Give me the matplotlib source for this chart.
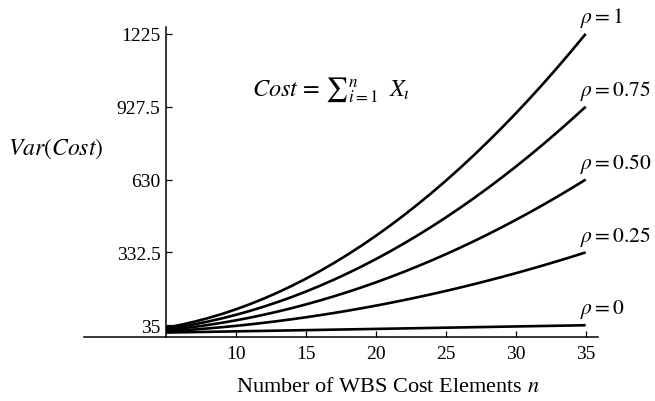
import matplotlib
matplotlib.use("Agg")
import matplotlib.pyplot as plt

plt.rcParams["font.family"] = ["Liberation Serif", "DejaVu Serif"]
plt.rcParams["mathtext.fontset"] = "stix"

# number of WBS cost elements
n = list(range(5, 36))

# variance of total cost for each correlation level
var_rho_0 = [5, 6, 7, 8, 9, 10, 11, 12, 13, 14, 15, 16, 17, 18, 19, 20,
             21, 22, 23, 24, 25, 26, 27, 28, 29, 30, 31, 32, 33, 34, 35]
var_rho_025 = [10, 13.5, 17.5, 22, 27, 32.5, 38.5, 45, 52, 59.5, 67.5, 76,
               85, 94.5, 104.5, 115, 126, 137.5, 149.5, 162, 175, 188.5,
               202.5, 217, 232, 247.5, 263.5, 280, 297, 314.5, 332.5]
var_rho_050 = [15, 21, 28, 36, 45, 55, 66, 78, 91, 105, 120, 136, 153, 171,
               190, 210, 231, 253, 276, 300, 325, 351, 378, 406, 435, 465,
               496, 528, 561, 595, 630]
var_rho_075 = [20, 28.5, 38.5, 50, 63, 77.5, 93.5, 111, 130, 150.5, 172.5,
               196, 221, 247.5, 275.5, 305, 336, 368.5, 402.5, 438, 475,
               513.5, 553.5, 595, 638, 682.5, 728.5, 776, 825, 875.5, 927.5]
var_rho_1 = [25, 36, 49, 64, 81, 100, 121, 144, 169, 196, 225, 256, 289, 324,
             361, 400, 441, 484, 529, 576, 625, 676, 729, 784, 841, 900, 961,
             1024, 1089, 1156, 1225]

series = [var_rho_1, var_rho_075, var_rho_050, var_rho_025, var_rho_0]
labels = [r"$\rho = 1$", r"$\rho = 0.75$", r"$\rho = 0.50$",
          r"$\rho = 0.25$", r"$\rho = 0$"]

x_ticks = [10, 15, 20, 25, 30, 35]
y_ticks = [35, 332.5, 630, 927.5, 1225]
y_tick_labels = ["35", "332.5", "630", "927.5", "1225"]

fig = plt.figure(figsize=(6.55, 4.02), dpi=100)
ax = fig.add_axes([84 / 655, 1 - 337.5 / 402, (598 - 84) / 655, (337.5 - 28) / 402])

for vals in series:
    ax.plot(n, vals, color="black", lw=1.9, solid_capstyle="butt")

for vals, lab in zip(series, labels):
    ax.annotate(lab, xy=(n[-1], vals[-1]), xytext=(-4, 3.5),
                textcoords="offset points", ha="left", va="bottom",
                fontsize=15.5)

ax.set_xlim(-0.86, 35.88)
ax.set_ylim(-11, 1253)

ax.spines["left"].set_position(("data", 5))
ax.spines["top"].set_visible(False)
ax.spines["right"].set_visible(False)
for s in ("left", "bottom"):
    ax.spines[s].set_linewidth(1.1)

ax.set_xticks(x_ticks)
ax.set_xticklabels([str(t) for t in x_ticks])
ax.set_yticks(y_ticks)
ax.set_yticklabels(y_tick_labels)
ax.tick_params(direction="in", length=4, width=0.9, labelsize=14)
ax.tick_params(axis="x", pad=6)
ax.tick_params(axis="y", pad=4)

fig.text(252 / 655, 1 - 90 / 402,
         r"$Cost\, =\, {\sum}_{i=1}^{n}\;\;X_{\iota}$",
         fontsize=17.5, ha="left", va="center")

fig.text(8 / 655, 1 - 149 / 402, r"$Var(Cost)$", fontsize=17,
         ha="left", va="center")
fig.text(388 / 655, 1 - 388 / 402, r"Number of WBS Cost Elements $n$",
         fontsize=16, ha="center", va="center")

fig.savefig("out.png", dpi=100, facecolor="white")
